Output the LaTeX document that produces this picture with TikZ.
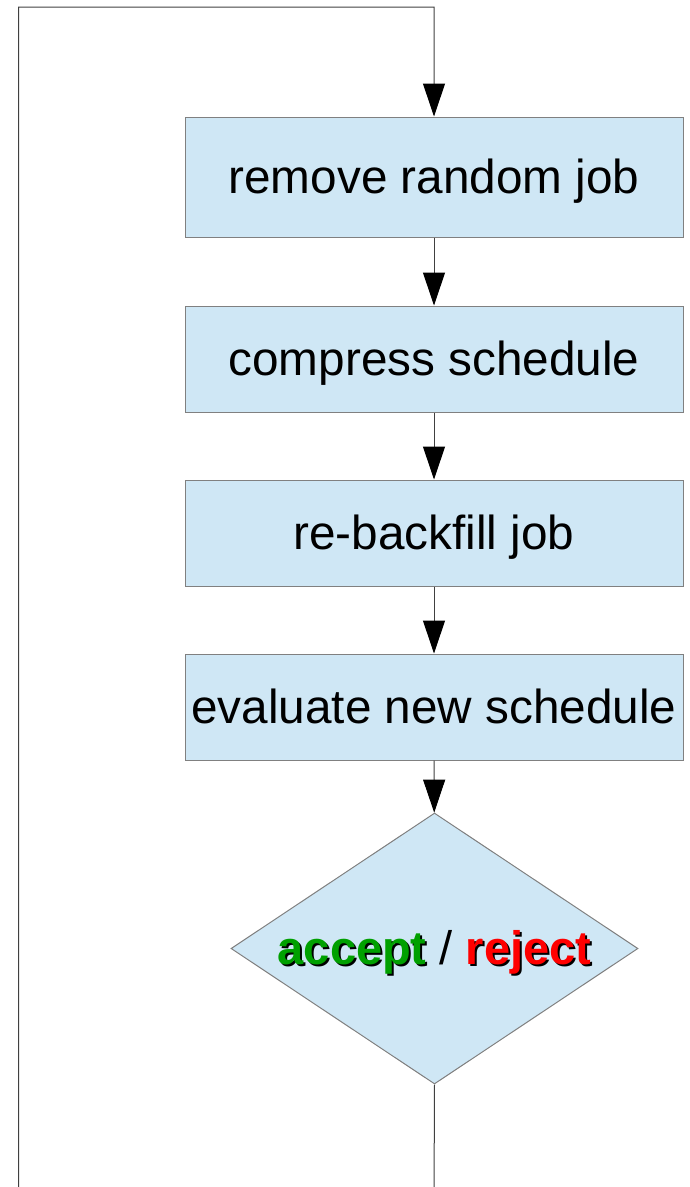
\documentclass[tikz,border=0pt]{standalone}
\usepackage{fontspec}
\setmainfont{Liberation Sans}
\usetikzlibrary{arrows.meta}
\usetikzlibrary{shapes.geometric}
\definecolor{boxblue}{RGB}{207,231,245}
\definecolor{edgegray}{RGB}{128,128,128}
\definecolor{accgreen}{RGB}{0,160,0}
\definecolor{rejred}{RGB}{255,0,0}
\newcommand{\shadowed}[2]{\rlap{\kern2pt\raisebox{-2pt}{\textcolor{black}{#2}}}\textcolor{#1}{#2}}

\begin{document}
\begin{tikzpicture}[x=1pt,y=-1pt,
    stepbox/.style={draw=edgegray,fill=boxblue,line width=1pt,minimum width=498pt,inner sep=0pt,
      text height=43pt,text depth=10pt,font=\fontsize{47.7}{57}\selectfont},
    flow/.style={draw=black!75,line width=1pt,-{Triangle[width=22pt,length=33pt,color=black]}}]
      \clip (0,0) rectangle (689,1187);
      \node[stepbox,minimum height=120pt] (remove) at (434,177) {remove random job};
      \node[stepbox,minimum height=106pt] (compress) at (434,359) {compress schedule};
      \node[stepbox,minimum height=106pt] (backfill) at (434,533) {re-backfill job};
      \node[stepbox,minimum height=106pt] (evaluate) at (434,707) {evaluate new schedule};
      \node[diamond,draw=edgegray,fill=boxblue,line width=1pt,inner sep=0pt,aspect=1.5,
        text height=42.5pt,text depth=10pt,
        minimum width=407pt,minimum height=271pt,font=\bfseries\fontsize{47}{56}\selectfont]
        (decide) at (434.5,948.5) {\shadowed{accgreen}{accept} {\mdseries/} \shadowed{rejred}{reject}};
      \coordinate (loopbr) at (434,1200);
      \coordinate (loopbl) at (18.5,1200);
      \coordinate (looptl) at (18.5,7);
      \coordinate (looptr) at (434,7);
      \draw[flow] (remove) -- (compress);
      \draw[flow] (compress) -- (backfill);
      \draw[flow] (backfill) -- (evaluate);
      \draw[flow] (evaluate) -- (decide);
      \draw[flow] (decide.south) -- (loopbr) -- (loopbl) -- (looptl) -- (looptr) -- (remove.north);
    \end{tikzpicture}
\end{document}
